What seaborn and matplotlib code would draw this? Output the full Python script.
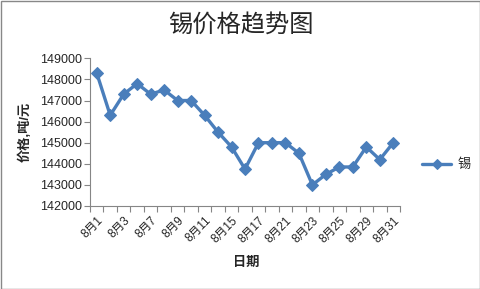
import matplotlib
matplotlib.use("Agg")
import matplotlib.pyplot as plt
from matplotlib.patches import Rectangle
import seaborn as sns
import pandas as pd

dates = ["8月1", "8月2", "8月3", "8月6", "8月7", "8月8", "8月9", "8月10", "8月11", "8月14",
         "8月15", "8月16", "8月17", "8月20", "8月21", "8月22", "8月23", "8月24", "8月25",
         "8月28", "8月29", "8月30", "8月31"]
prices = [148300, 146300, 147300, 147800, 147300, 147500, 147000, 147000, 146300, 145500,
          144800, 143750, 145000, 145000, 145000, 144500, 143000, 143500, 143850,
          143850, 144800, 144200, 145000]
yticks = [142000, 143000, 144000, 145000, 146000, 147000, 148000, 149000]
series_name = "锡"
title = "锡价格趋势图"
xlabel = "日期"
ylabel = "价格,吨/元"

sns.set_theme(style="white")
plt.rcParams["font.family"] = ["Liberation Sans", "Noto Sans CJK SC", "DejaVu Sans"]

df = pd.DataFrame({"idx": range(len(dates)), "price": prices, "series": series_name})

fig = plt.figure(figsize=(4.81, 2.89), dpi=100)
ax = fig.add_axes([90 / 481, 1 - 206 / 289, 310 / 481, (206 - 58.3) / 289])
color = "#4A7EBB"
sns.lineplot(data=df, x="idx", y="price", hue="series", palette=[color], marker="D",
             markersize=6.5, markeredgecolor=color, linewidth=2.4, ax=ax, legend=True)

ax.set_xlim(-0.5, len(dates) - 0.5)
ax.set_ylim(142000, 149000)
ax.set_yticks(yticks)
ax.set_yticklabels([str(v) for v in yticks], fontsize=9)
ax.set_xticks(range(0, len(dates), 2))
ax.set_xticklabels(dates[0::2], rotation=45, ha="right", rotation_mode="anchor", fontsize=8.5)
ax.set_xticks([i - 0.5 for i in range(len(dates) + 1)], minor=True)
ax.tick_params(axis="x", which="major", length=0, pad=6)
ax.tick_params(axis="x", which="minor", length=4, color="#868686", width=0.8, direction="out", bottom=True)
ax.tick_params(axis="y", length=4, color="#868686", width=0.8, direction="out", left=True, pad=2)
for s in ["top", "right"]:
    ax.spines[s].set_visible(False)
for s in ["left", "bottom"]:
    ax.spines[s].set_color("#868686")
    ax.spines[s].set_linewidth(0.8)

ax.set_xlabel(xlabel, fontsize=9.5, fontweight="bold")
ax.set_ylabel(ylabel, fontsize=9.5, fontweight="bold")
ax.xaxis.set_label_coords((246 - 90) / 310, -(257 - 206) / 147.7)
ax.yaxis.set_label_coords(-(90 - 32) / 310, 0.5)

fig.text(0.5, 1 - 25 / 289, title, ha="center", va="center", fontsize=17.5)

leg = ax.legend(loc="center left", bbox_to_anchor=(1.055, (206 - 165) / 147.7), frameon=False,
                fontsize=9.5, handlelength=2.2, handletextpad=0.5, borderaxespad=0)
for h in leg.legend_handles:
    h.set_markersize(5)

fig.add_artist(Rectangle((0.5 / 481, 0.5 / 289), 1 - 1.5 / 481, 1 - 1.5 / 289,
                         transform=fig.transFigure, fill=False, edgecolor="#888888", linewidth=1))

fig.savefig("out.png", dpi=100)
